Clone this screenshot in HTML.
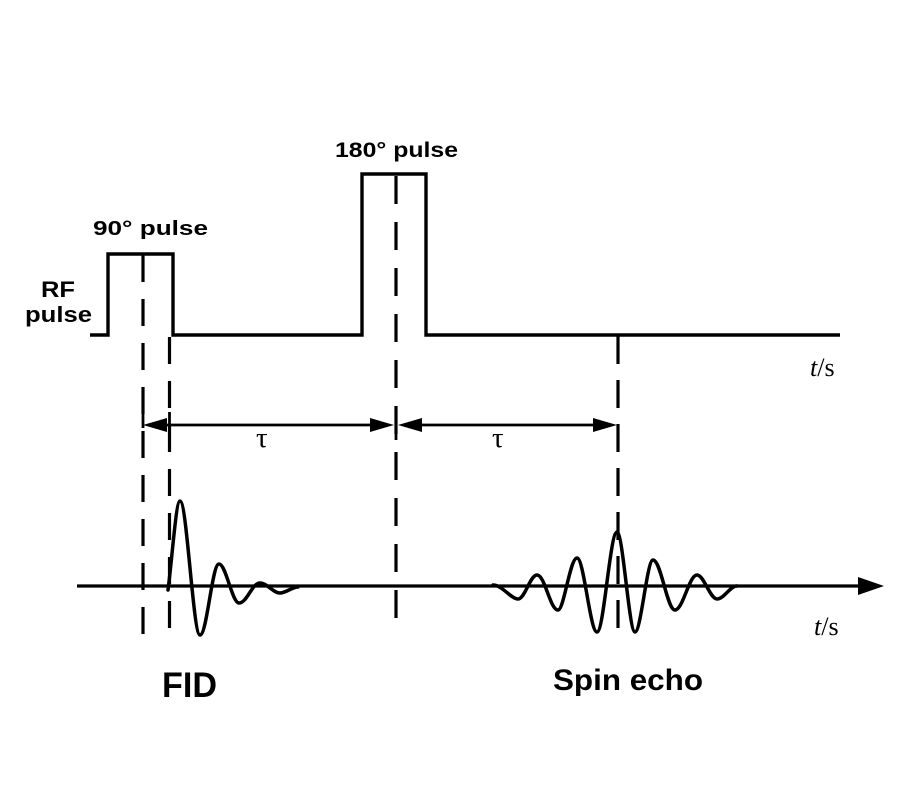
<!DOCTYPE html>
<html>
<head>
<meta charset="utf-8">
<style>
  html, body { margin:0; padding:0; background:#ffffff; }
  svg { display:block; }
  .b { font-family: "Liberation Sans", Arial, sans-serif; font-weight: bold; fill:#000; }
  .s { font-family: "Liberation Serif", "Times New Roman", serif; fill:#000; }
</style>
</head>
<body>
<svg width="900" height="800" viewBox="0 0 900 800" xmlns="http://www.w3.org/2000/svg">
  <rect x="0" y="0" width="900" height="800" fill="#ffffff"/>

  <!-- RF pulse trace -->
  <path d="M90,335 H108 V254 H173 V335 H362 V174 H426 V335 H840" fill="none" stroke="#000" stroke-width="3.4" stroke-linejoin="miter"/>

  <!-- dashed verticals -->
  <g stroke="#000" stroke-width="3.2" fill="none">
    <line x1="143" y1="255" x2="143" y2="640" stroke-dasharray="27 17"/>
    <line x1="169.5" y1="337" x2="169.5" y2="643" stroke-dasharray="27 17"/>
    <line x1="396" y1="176" x2="396" y2="629" stroke-dasharray="28 18"/>
    <line x1="618" y1="336" x2="618" y2="643" stroke-dasharray="28 16"/>
  </g>

  <!-- tau arrows -->
  <g stroke="#000" stroke-width="2.8">
    <line x1="150" y1="425" x2="385" y2="425"/>
    <line x1="405" y1="425" x2="610" y2="425"/>
    <line x1="143" y1="398" x2="143" y2="428"/>
    <line x1="169.5" y1="412" x2="169.5" y2="440"/>
    <line x1="396" y1="410" x2="396" y2="440"/>
  </g>
  <g fill="#000">
    <polygon points="143,425 167,418 167,432"/>
    <polygon points="394,425 370,418 370,432"/>
    <polygon points="398,425 422,418 422,432"/>
    <polygon points="617,425 593,418 593,432"/>
  </g>
  <text class="s" x="256" y="447" font-size="29">τ</text>
  <text class="s" x="492" y="447" font-size="29">τ</text>

  <!-- signal axis -->
  <line x1="77" y1="586" x2="862" y2="586" stroke="#000" stroke-width="3.2"/>
  <polygon points="884,586 858,577 858,595" fill="#000"/>

  <!-- FID waveform -->
  <path d="M168,590 C172,560 176,501 180,501
           C187,501 193,635 200,635
           C207,635 212,564 219,564
           C226,564 232,603 239,603
           C247,603 252,583 260,583
           C267,583 273,593 280,593
           C286,593 292,587 298,587"
        fill="none" stroke="#000" stroke-width="3.5" stroke-linejoin="round" stroke-linecap="round"/>

  <!-- Spin echo waveform -->
  <path d="M493,585 C502,585 511,599 518,599
           C525,599 530,575 537,575
           C545,575 550,610 558,610
           C564,610 570,558 577,558
           C584,558 590,632 597,632
           C604,632 610,532 617,532
           C623,532 629,632 635,632
           C641,632 647,560 653,560
           C661,560 667,610 675,610
           C683,610 689,575 697,575
           C704,575 710,599 717,599
           C724,599 730,586 737,586"
        fill="none" stroke="#000" stroke-width="3.5" stroke-linejoin="round" stroke-linecap="round"/>

  <!-- labels -->
  <text class="b" x="41" y="297" font-size="22" textLength="34" lengthAdjust="spacingAndGlyphs">RF</text>
  <text class="b" x="25" y="322" font-size="22" textLength="67" lengthAdjust="spacingAndGlyphs">pulse</text>
  <text class="b" x="93" y="235" font-size="20" textLength="115" lengthAdjust="spacingAndGlyphs">90° pulse</text>
  <text class="b" x="335" y="157" font-size="21" textLength="123" lengthAdjust="spacingAndGlyphs">180° pulse</text>

  <text class="s" x="810" y="376" font-size="26"><tspan font-style="italic">t</tspan>/s</text>
  <text class="s" x="814" y="635" font-size="26"><tspan font-style="italic">t</tspan>/s</text>

  <text class="b" x="162" y="697" font-size="35" textLength="55" lengthAdjust="spacingAndGlyphs">FID</text>
  <text class="b" x="553" y="690" font-size="30" textLength="150" lengthAdjust="spacingAndGlyphs">Spin echo</text>
</svg>
</body>
</html>
